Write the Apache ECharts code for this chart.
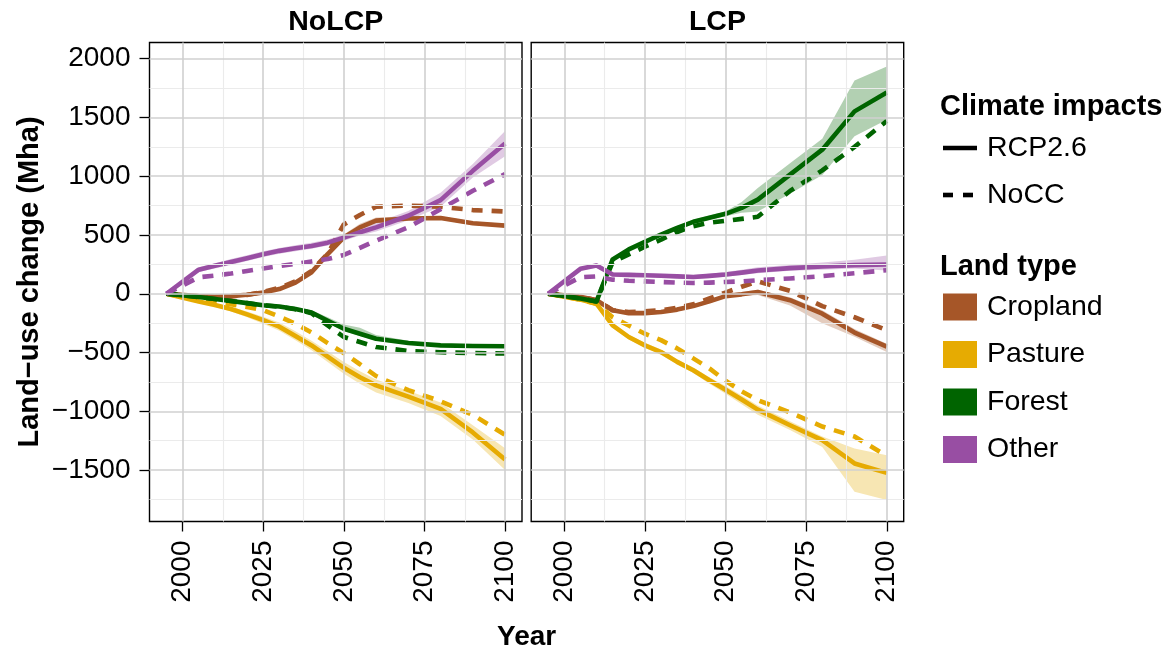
<!DOCTYPE html>
<html>
<head>
<meta charset="utf-8">
<script src="https://cdn.jsdelivr.net/npm/echarts@6/dist/echarts.min.js"></script>
<style>
html,body{margin:0;padding:0;background:#fff;}
#chart{width:1170px;height:654px;}
</style>
</head>
<body>
<div id="chart"></div>
<script>
// ---------- data ----------
const years = [1995, 2005, 2010, 2015, 2020, 2025, 2030, 2035, 2040, 2045, 2050, 2055, 2060, 2070, 2080, 2090, 2100];
const panels = ['NoLCP', 'LCP'];
const landTypes = ['Cropland', 'Pasture', 'Forest', 'Other'];
const scenarios = ['RCP2.6', 'NoCC'];
const landColors = ['#A65628', '#E6AB02', '#006400', '#984EA3'];

const yTicks = [-1500, -1000, -500, 0, 500, 1000, 1500, 2000];
const yMinorTicks = [-1750, -1250, -750, -250, 250, 750, 1250, 1750];
const xTicks = [2000, 2025, 2050, 2075, 2100];
const xMinorTicks = [2012.5, 2037.5, 2062.5, 2087.5];

// NoLCP
const noLcpCroplandRcp  = [0, -20, -25, -20, -8, 10, 40, 95, 183, 337, 480, 565, 622, 640, 645, 600, 580];
const noLcpCroplandNoCC = [0, -20, -28, -22, -10, 15, 50, 105, 195, 340, 590, 670, 740, 750, 740, 712, 700];
const noLcpCroplandLow  = [0, -30, -35, -30, -18, 0, 30, 85, 170, 320, 465, 550, 605, 625, 630, 585, 565];
const noLcpCroplandHigh = [0, -10, -15, -10, 2, 20, 50, 105, 195, 355, 505, 595, 648, 660, 660, 615, 595];

const noLcpPastureRcp  = [0, -65, -95, -130, -175, -225, -280, -360, -440, -535, -630, -710, -780, -876, -980, -1180, -1410];
const noLcpPastureNoCC = [0, -50, -70, -90, -112, -140, -195, -255, -330, -420, -505, -600, -700, -820, -915, -1030, -1200];
const noLcpPastureLow  = [0, -75, -110, -150, -200, -255, -315, -395, -480, -580, -680, -765, -840, -930, -1040, -1240, -1500];
const noLcpPastureHigh = [0, -55, -80, -110, -150, -195, -245, -320, -400, -490, -580, -660, -730, -826, -925, -1120, -1315];

const noLcpForestRcp  = [0, -28, -45, -62, -80, -98, -108, -130, -160, -230, -298, -340, -383, -419, -439, -445, -447];
const noLcpForestNoCC = [0, -28, -45, -62, -80, -98, -110, -132, -165, -270, -368, -411, -453, -487, -498, -504, -509];
const noLcpForestLow  = [0, -35, -55, -72, -92, -110, -122, -145, -178, -250, -315, -360, -400, -432, -450, -455, -457];
const noLcpForestHigh = [0, -20, -35, -52, -68, -85, -95, -115, -140, -200, -262, -290, -350, -400, -428, -435, -437];

const noLcpOtherRcp  = [0, 205, 238, 270, 303, 337, 365, 388, 407, 435, 478, 523, 565, 664, 797, 1046, 1278];
const noLcpOtherNoCC = [0, 140, 155, 172, 194, 215, 236, 255, 275, 295, 330, 390, 452, 565, 720, 876, 1018];
const noLcpOtherLow  = [0, 185, 215, 245, 278, 312, 340, 362, 382, 410, 450, 495, 530, 625, 740, 990, 1170];
const noLcpOtherHigh = [0, 225, 260, 295, 328, 362, 390, 413, 435, 462, 505, 555, 605, 705, 860, 1105, 1385];

// LCP
const lcpCroplandRcp  = [0, -25, -55, -140, -165, -165, -155, -135, -105, -65, -20, -5, 15, -55, -170, -330, -450];
const lcpCroplandNoCC = [0, -25, -55, -140, -155, -150, -140, -120, -90, -40, 10, 60, 105, 25, -105, -200, -310];
const lcpCroplandLow  = [0, -35, -65, -155, -180, -180, -170, -150, -120, -80, -35, -20, -10, -100, -250, -365, -495];
const lcpCroplandHigh = [0, -15, -45, -125, -150, -150, -140, -120, -90, -50, -5, 15, 35, -30, -140, -300, -425];

const lcpPastureRcp  = [0, -50, -85, -270, -368, -439, -496, -580, -651, -736, -816, -900, -986, -1119, -1246, -1444, -1524];
const lcpPastureNoCC = [0, -50, -85, -200, -270, -340, -395, -465, -550, -635, -740, -830, -905, -1010, -1130, -1215, -1380];
const lcpPastureLow  = [0, -60, -95, -290, -390, -460, -518, -602, -675, -765, -850, -940, -1030, -1160, -1305, -1685, -1756];
const lcpPastureHigh = [0, -40, -75, -250, -348, -418, -475, -558, -628, -710, -785, -865, -950, -1085, -1215, -1317, -1374];

const lcpForestRcp  = [0, -40, -65, 292, 377, 442, 504, 561, 612, 646, 680, 731, 801, 1014, 1226, 1552, 1713];
const lcpForestNoCC = [0, -40, -65, 270, 335, 400, 460, 525, 575, 605, 620, 637, 655, 875, 1050, 1250, 1470];
const lcpForestLow  = [0, -50, -75, 280, 362, 425, 488, 545, 595, 630, 660, 690, 700, 850, 1010, 1340, 1481];
const lcpForestHigh = [0, -30, -55, 305, 392, 458, 520, 577, 630, 665, 700, 780, 900, 1110, 1320, 1815, 1934];

const lcpOtherRcp  = [0, 212, 241, 164, 161, 158, 153, 148, 142, 152, 164, 180, 198, 218, 232, 244, 249];
const lcpOtherNoCC = [0, 140, 148, 120, 110, 105, 100, 95, 92, 95, 100, 105, 115, 130, 150, 175, 200];
const lcpOtherLow  = [0, 195, 225, 148, 145, 142, 137, 132, 126, 135, 145, 160, 175, 195, 205, 215, 198];
const lcpOtherHigh = [0, 228, 258, 180, 178, 175, 170, 165, 160, 170, 185, 205, 225, 245, 265, 290, 326];

// table built from the arrays above: [panel][landType] = {rcp, nocc, low, high}
const table = [
  [
    {rcp: noLcpCroplandRcp, nocc: noLcpCroplandNoCC, low: noLcpCroplandLow, high: noLcpCroplandHigh},
    {rcp: noLcpPastureRcp,  nocc: noLcpPastureNoCC,  low: noLcpPastureLow,  high: noLcpPastureHigh},
    {rcp: noLcpForestRcp,   nocc: noLcpForestNoCC,   low: noLcpForestLow,   high: noLcpForestHigh},
    {rcp: noLcpOtherRcp,    nocc: noLcpOtherNoCC,    low: noLcpOtherLow,    high: noLcpOtherHigh}
  ],
  [
    {rcp: lcpCroplandRcp, nocc: lcpCroplandNoCC, low: lcpCroplandLow, high: lcpCroplandHigh},
    {rcp: lcpPastureRcp,  nocc: lcpPastureNoCC,  low: lcpPastureLow,  high: lcpPastureHigh},
    {rcp: lcpForestRcp,   nocc: lcpForestNoCC,   low: lcpForestLow,   high: lcpForestHigh},
    {rcp: lcpOtherRcp,    nocc: lcpOtherNoCC,    low: lcpOtherLow,    high: lcpOtherHigh}
  ]
];

// ---------- layout ----------
const FONT = '"Liberation Sans", Arial, Helvetica, sans-serif';
const FS_TICK = 28;
const FS_LEG = 28.5;
const gridTop = 42.5, gridH = 479, gridW = 372.5;
const gridLefts = [149.5, 531.2];
const X_MIN = 1989.75, X_MAX = 2105.25;
const Y_MIN = -1938, Y_MAX = 2138;
const DASH = [11, 9];
const LW = 4.6;

const fmt = v => (v < 0 ? '\u2212' + Math.abs(v) : String(v));

const grids = gridLefts.map(l => ({
  left: l, top: gridTop, width: gridW, height: gridH,
  show: true, backgroundColor: '#fff', borderColor: '#000', borderWidth: 1.4
}));

const xAxes = panels.map((p, i) => ({
  type: 'value', gridIndex: i, min: X_MIN, max: X_MAX, position: 'bottom',
  axisLine: {show: false, onZero: false},
  splitLine: {show: false},
  axisTick: {show: true, customValues: xTicks, length: 10, lineStyle: {color: '#000', width: 1.3}},
  axisLabel: {show: true, customValues: xTicks, rotate: 90, margin: 19, fontSize: FS_TICK,
              color: '#000', fontFamily: FONT, formatter: v => fmt(v)}
}));

const yAxes = panels.map((p, i) => ({
  type: 'value', gridIndex: i, min: Y_MIN, max: Y_MAX, position: 'left',
  axisLine: {show: false, onZero: false},
  splitLine: {show: false},
  axisTick: {show: i === 0, customValues: yTicks, length: 10, lineStyle: {color: '#000', width: 1.3}},
  axisLabel: {show: i === 0, customValues: yTicks, margin: 19, fontSize: FS_TICK,
              color: '#000', fontFamily: FONT, formatter: v => fmt(v)}
}));

const series = [];

// gridlines (not data marks) as markLines
panels.forEach((p, i) => {
  const minorStyle = {color: '#EBEBEB', width: 1.1, type: 'solid'};
  const majorStyle = {color: '#D0D0D0', width: 1.6, type: 'solid'};
  series.push({
    type: 'line', xAxisIndex: i, yAxisIndex: i, z: 1, silent: true,
    data: [], showSymbol: false,
    markLine: {
      silent: true, animation: false, symbol: ['none', 'none'], label: {show: false},
      emphasis: {disabled: true},
      data: [].concat(
        yMinorTicks.map(v => ({yAxis: v, lineStyle: minorStyle})),
        xMinorTicks.map(v => ({xAxis: v, lineStyle: minorStyle})),
        yTicks.map(v => ({yAxis: v, lineStyle: majorStyle})),
        xTicks.map(v => ({xAxis: v, lineStyle: majorStyle}))
      )
    }
  });
});

function bandRenderer(color) {
  return function (params, api) {
    if (params.dataIndexInside !== 0) return null;
    const n = params.dataInsideLength;
    const top = [], bot = [];
    for (let k = 0; k < n; k++) {
      const x = api.value(0, k);
      top.push(api.coord([x, api.value(2, k)]));
      bot.push(api.coord([x, api.value(1, k)]));
    }
    return {
      type: 'polygon',
      shape: {points: top.concat(bot.reverse())},
      style: {fill: color, opacity: 0.3}
    };
  };
}

function lineRenderer(color, dash) {
  return function (params, api) {
    if (params.dataIndexInside !== 0) return null;
    const n = params.dataInsideLength;
    const pts = [];
    for (let k = 0; k < n; k++) {
      pts.push(api.coord([api.value(0, k), api.value(1, k)]));
    }
    return {
      type: 'polyline',
      shape: {points: pts},
      style: {stroke: color, fill: null, lineWidth: LW, lineDash: dash, lineCap: 'butt', lineJoin: 'round'}
    };
  };
}

// bands
panels.forEach((p, i) => {
  landTypes.forEach((lt, j) => {
    const d = table[i][j];
    series.push({
      type: 'custom', name: p + ' ' + lt + ' range', xAxisIndex: i, yAxisIndex: i, z: 2,
      clip: true, silent: true,
      renderItem: bandRenderer(landColors[j]),
      data: years.map((y, k) => [y, d.low[k], d.high[k]])
    });
  });
});

// lines
panels.forEach((p, i) => {
  landTypes.forEach((lt, j) => {
    const d = table[i][j];
    [['rcp', null], ['nocc', DASH]].forEach(([key, dash], s) => {
      series.push({
        type: 'custom', name: p + ' ' + lt + ' ' + scenarios[s], xAxisIndex: i, yAxisIndex: i, z: 3,
        clip: true, silent: true,
        renderItem: lineRenderer(landColors[j], dash),
        data: years.map((y, k) => [y, d[key][k]])
      });
    });
  });
});

// texts, legend
const graphic = [];
panels.forEach((p, i) => {
  graphic.push({type: 'text', x: gridLefts[i] + gridW / 2, y: 22,
    style: {text: p, font: 'bold 28.5px ' + FONT, fill: '#000', textAlign: 'center', textVerticalAlign: 'middle'}});
});
graphic.push({type: 'text', x: 30, y: gridTop + gridH / 2, rotation: Math.PI / 2,
  style: {text: 'Land\u2212use change (Mha)', font: 'bold 29px ' + FONT, fill: '#000', textAlign: 'center', textVerticalAlign: 'middle'}});
graphic.push({type: 'text', x: (gridLefts[0] + gridLefts[1] + gridW) / 2, y: 637,
  style: {text: 'Year', font: 'bold 28px ' + FONT, fill: '#000', textAlign: 'center', textVerticalAlign: 'middle'}});

const LX = 940, KX = 943, KW = 34, TX = 987;
graphic.push({type: 'text', x: LX, y: 107,
  style: {text: 'Climate impacts', font: 'bold 29px ' + FONT, fill: '#000', textAlign: 'left', textVerticalAlign: 'middle'}});
const scenY = [148, 195];
scenarios.forEach((s, k) => {
  graphic.push({type: 'line', shape: {x1: KX, y1: scenY[k], x2: KX + KW, y2: scenY[k]},
    style: {stroke: '#000', lineWidth: LW, lineDash: k === 0 ? null : [10, 10], lineCap: 'butt'}});
  graphic.push({type: 'text', x: TX, y: scenY[k],
    style: {text: s, font: FS_LEG + 'px ' + FONT, fill: '#000', textAlign: 'left', textVerticalAlign: 'middle'}});
});
graphic.push({type: 'text', x: LX, y: 267,
  style: {text: 'Land type', font: 'bold 29px ' + FONT, fill: '#000', textAlign: 'left', textVerticalAlign: 'middle'}});
const landY = [307, 354.5, 402, 449.5];
landTypes.forEach((lt, k) => {
  graphic.push({type: 'rect', shape: {x: KX, y: landY[k] - 13.5, width: KW, height: 27},
    style: {fill: landColors[k]}});
  graphic.push({type: 'text', x: TX, y: landY[k],
    style: {text: lt, font: FS_LEG + 'px ' + FONT, fill: '#000', textAlign: 'left', textVerticalAlign: 'middle'}});
});

const chart = echarts.init(document.getElementById('chart'), null, {renderer: 'canvas'});
chart.setOption({
  animation: false,
  backgroundColor: '#fff',
  grid: grids,
  xAxis: xAxes,
  yAxis: yAxes,
  series: series,
  graphic: graphic
});
</script>
</body>
</html>
